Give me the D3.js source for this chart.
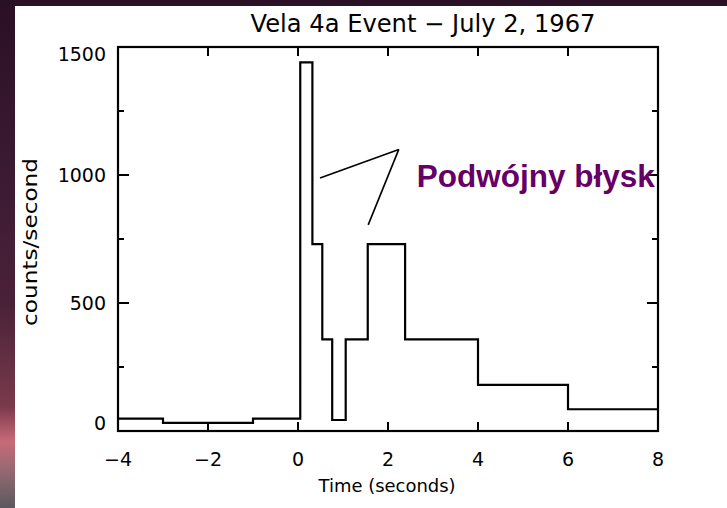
<!DOCTYPE html>
<html>
<head>
<meta charset="utf-8">
<script src="https://cdn.jsdelivr.net/npm/d3@7"></script>
<style>
  body { margin: 0; background: #2e1428; }
  svg { display: block; }
</style>
</head>
<body>
<div id="chart"></div>
<script>
// bin edges (seconds) and counts/second for each bin
var binEdges = [-4, -3, -1, 0.05, 0.32, 0.54, 0.76, 1.06, 1.55, 2.38, 4, 6, 8];
var binCounts = [48, 32, 48, 1440, 730, 358, 43, 358, 730, 358, 180, 85];
var xTicks = [-4, -2, 0, 2, 4, 6, 8];
var yTicks = [0, 500, 1000, 1500];
var yMinor = [250, 750, 1250];
// annotation pointer: from text corner to the two peaks
var pointerHub = [2.24, 1100];
var pointerEnds = [[0.49, 988], [1.56, 805]];

var W = 727, H = 508;
var margin = {left: 118, right: 69, top: 47, bottom: 77};
var axisFont = 'DejaVu Sans, sans-serif';

var svg = d3.select('#chart').append('svg').attr('width', W).attr('height', H);

// slide background behind the chart picture
var defs = svg.append('defs');
var grad = defs.append('linearGradient').attr('id', 'bg').attr('x1', 0).attr('x2', 0).attr('y1', 0).attr('y2', 1);
[[0, '#2a1024'], [0.35, '#3c1a34'], [0.6, '#4a2238'], [0.8, '#7a3a4c'], [0.87, '#c86a78'], [0.92, '#9a6a74'], [1, '#5a5a5e']]
  .forEach(function(s){ grad.append('stop').attr('offset', s[0]).attr('stop-color', s[1]); });
svg.append('rect').attr('width', W).attr('height', H).attr('fill', 'url(#bg)');
svg.append('rect').attr('x', 15).attr('y', 6).attr('width', W - 15).attr('height', H - 6).attr('fill', '#fff');

var x = d3.scaleLinear().domain([-4, 8]).range([margin.left, W - margin.right]);
var y = d3.scaleLinear().domain([0, 1500]).range([H - margin.bottom, margin.top]);

var g = svg.append('g');

// frame
g.append('rect')
  .attr('x', x(-4)).attr('y', y(1500))
  .attr('width', x(8) - x(-4)).attr('height', y(0) - y(1500))
  .attr('fill', 'none').attr('stroke', '#000').attr('stroke-width', 2.2);

// x ticks, bottom and top
xTicks.forEach(function(t){
  g.append('line').attr('x1', x(t)).attr('x2', x(t)).attr('y1', y(0)).attr('y2', y(0) - 9)
    .attr('stroke', '#000').attr('stroke-width', 2);
  g.append('line').attr('x1', x(t)).attr('x2', x(t)).attr('y1', y(1500)).attr('y2', y(1500) + 9)
    .attr('stroke', '#000').attr('stroke-width', 2);
  g.append('text').attr('x', x(t)).attr('y', y(0) + 35)
    .attr('text-anchor', 'middle').style('font-family', axisFont).attr('font-size', 19)
    .text(t < 0 ? '\u2212' + Math.abs(t) : t);
});

// y ticks, left and right
yTicks.forEach(function(v){
  g.append('line').attr('x1', x(-4)).attr('x2', x(-4) + 11).attr('y1', y(v)).attr('y2', y(v))
    .attr('stroke', '#000').attr('stroke-width', 2);
  g.append('line').attr('x1', x(8)).attr('x2', x(8) - 11).attr('y1', y(v)).attr('y2', y(v))
    .attr('stroke', '#000').attr('stroke-width', 2);
  var dy = v === 0 ? -8 : (v === 1500 ? 7 : 0);
  g.append('text').attr('x', x(-4) - 12).attr('y', y(v) + dy + 7)
    .attr('text-anchor', 'end').style('font-family', axisFont).attr('font-size', 19).text(v);
});
yMinor.forEach(function(v){
  g.append('line').attr('x1', x(-4)).attr('x2', x(-4) + 6).attr('y1', y(v)).attr('y2', y(v))
    .attr('stroke', '#000').attr('stroke-width', 2);
  g.append('line').attr('x1', x(8)).attr('x2', x(8) - 6).attr('y1', y(v)).attr('y2', y(v))
    .attr('stroke', '#000').attr('stroke-width', 2);
});

// histogram as a step line
var pts = binCounts.map(function(c, i){ return [binEdges[i], c]; });
pts.push([binEdges[binEdges.length - 1], binCounts[binCounts.length - 1]]);
var step = d3.line().x(function(d){ return x(d[0]); }).y(function(d){ return y(d[1]); }).curve(d3.curveStepAfter);
g.append('path').attr('d', step(pts)).attr('fill', 'none').attr('stroke', '#000').attr('stroke-width', 2.2);

// titles
svg.append('text').attr('x', 423).attr('y', 32)
  .attr('text-anchor', 'middle').style('font-family', axisFont).attr('font-size', 24)
  .attr('textLength', 345).attr('lengthAdjust', 'spacingAndGlyphs')
  .text('Vela 4a Event \u2212 July 2, 1967');
svg.append('text').attr('x', 387).attr('y', 492)
  .attr('text-anchor', 'middle').style('font-family', axisFont).attr('font-size', 18)
  .attr('textLength', 137).attr('lengthAdjust', 'spacingAndGlyphs')
  .text('Time (seconds)');
svg.append('text').attr('transform', 'translate(37,242) rotate(-90)')
  .attr('text-anchor', 'middle').style('font-family', axisFont).attr('font-size', 19)
  .attr('textLength', 168).attr('lengthAdjust', 'spacingAndGlyphs')
  .text('counts/second');

// annotation
pointerEnds.forEach(function(p){
  g.append('line').attr('x1', x(pointerHub[0])).attr('y1', y(pointerHub[1]))
    .attr('x2', x(p[0])).attr('y2', y(p[1]))
    .attr('stroke', '#000').attr('stroke-width', 1.6);
});
svg.append('text').attr('x', x(2.64)).attr('y', y(953))
  .style('font-family', 'Liberation Sans, Arial, sans-serif').attr('font-weight', 'bold')
  .attr('font-size', 31.5).attr('fill', '#660066').text('Podwójny błysk');
</script>
</body>
</html>
